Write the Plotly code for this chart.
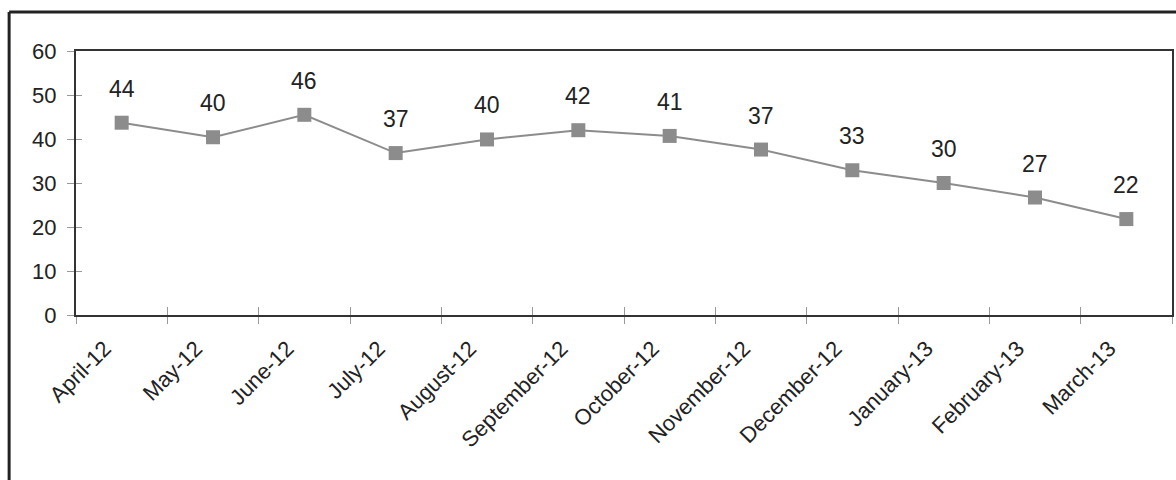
import plotly.graph_objects as go

months = ["April-12", "May-12", "June-12", "July-12", "August-12", "September-12",
          "October-12", "November-12", "December-12", "January-13", "February-13", "March-13"]
values = [43.7, 40.4, 45.5, 36.8, 39.9, 42.0, 40.7, 37.6, 32.9, 30.0, 26.7, 21.8]
labels = ["44", "40", "46", "37", "40", "42", "41", "37", "33", "30", "27", "22"]
y_ticks = [0, 10, 20, 30, 40, 50, 60]

FONT = "Liberation Sans, Arial, sans-serif"
TXT = "#222222"

fig = go.Figure()
fig.add_trace(go.Scatter(
    x=months, y=values, mode="lines+markers",
    line=dict(color="#8c8c8c", width=2),
    marker=dict(symbol="square", size=14, color="#8c8c8c"),
    hoverinfo="skip", showlegend=False,
))
# helper trace on overlay axes to draw inward half of crossing ticks
fig.add_trace(go.Scatter(
    x=months, y=values, mode="lines", line=dict(width=0, color="rgba(0,0,0,0)"),
    xaxis="x2", yaxis="y2", hoverinfo="skip", showlegend=False,
))

for m, v, t in zip(months, values, labels):
    fig.add_annotation(x=m, y=v, text=t, showarrow=False, yshift=34,
                       font=dict(family=FONT, size=23, color=TXT))

fig.update_layout(
    width=1176, height=480,
    margin=dict(l=76, r=2, t=51, b=165),
    paper_bgcolor="white", plot_bgcolor="white",
    font=dict(family=FONT, color=TXT),
    xaxis=dict(
        type="category", categoryorder="array", categoryarray=months,
        range=[-0.5, len(months) - 0.5],
        tickson="boundaries", ticks="outside", ticklen=7, tickcolor="#999999", tickwidth=1,
        tickangle=-45, tickfont=dict(family=FONT, size=22, color=TXT),
        ticklabelshift=-17, ticklabelstandoff=10,
        showline=True, linecolor="#333333", linewidth=2, mirror=True,
        showgrid=False, zeroline=False,
    ),
    yaxis=dict(
        range=[0, 60], tickvals=y_ticks, ticks="outside", ticklen=7,
        tickcolor="#999999", tickwidth=1,
        tickfont=dict(family=FONT, size=22, color=TXT),
        ticklabelstandoff=6,
        showline=True, linecolor="#333333", linewidth=2, mirror=True,
        showgrid=False, zeroline=False,
    ),
    xaxis2=dict(
        type="category", categoryorder="array", categoryarray=months,
        range=[-0.5, len(months) - 0.5], overlaying="x", anchor="y2",
        tickson="boundaries", ticks="inside", ticklen=8, tickcolor="#999999", tickwidth=1,
        showticklabels=False, showline=False, showgrid=False, zeroline=False, side="bottom",
    ),
    yaxis2=dict(
        range=[0, 60], tickvals=y_ticks, overlaying="y", anchor="x2", side="left",
        ticks="inside", ticklen=6, tickcolor="#999999", tickwidth=1,
        showticklabels=False, showline=False, showgrid=False, zeroline=False,
    ),
)

# outer chart frame (top and left edges visible)
fig.add_shape(type="line", xref="paper", yref="paper",
              x0=(9 - 76) / 1098, x1=1.01, y0=(315 - 12) / 264, y1=(315 - 12) / 264,
              line=dict(color="#222222", width=3))
fig.add_shape(type="line", xref="paper", yref="paper",
              x0=(9 - 76) / 1098, x1=(9 - 76) / 1098, y0=(315 - 12) / 264, y1=-1.0,
              line=dict(color="#222222", width=3))

fig.write_html("out.html")
